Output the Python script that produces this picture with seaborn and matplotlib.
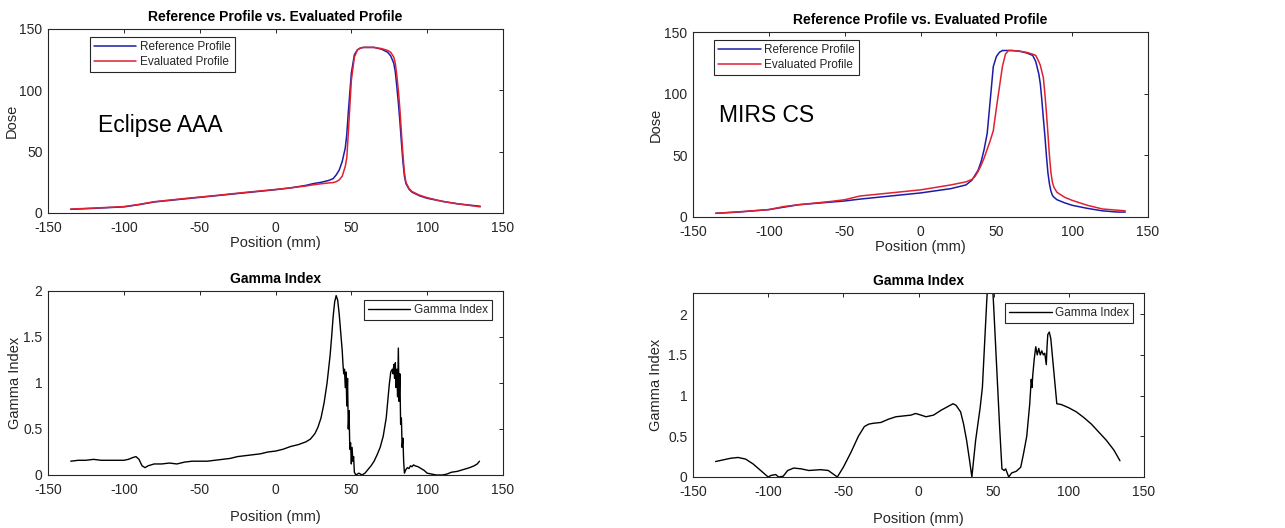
import matplotlib
matplotlib.use("Agg")
import matplotlib.pyplot as plt
import seaborn as sns
import pandas as pd

# ---------------- data ----------------
# Eclipse AAA dose profiles
ecl_x = [-135, -120, -100, -90, -80, -60, -40, -20, 0, 10, 20, 25, 30, 35, 38, 40, 42, 44, 46, 47,
         48, 50, 52, 54, 56, 58, 60, 65, 70, 74, 76, 78, 79, 80, 81, 82, 83, 84, 85, 86, 88, 90,
         95, 100, 110, 120, 135]
ecl_ref = [3.0, 3.8, 5.0, 6.8, 9.0, 11.5, 14.0, 16.5, 19.0, 20.5, 22.5, 24.0, 25.0, 26.5, 28.0, 31.0,
           35.0, 42.0, 53.0, 64.0, 82.0, 114.0, 129.0, 133.0, 134.5, 135.0, 135.0, 135.0, 133.5,
           131.0, 128.0, 122.0, 115.0, 103.0, 90.0, 75.0, 58.0, 42.0, 30.0, 24.0, 19.5, 17.0, 14.0,
           12.0, 9.5, 7.5, 5.5]
ecl_eval = [3.2, 4.0, 5.2, 7.0, 9.2, 11.8, 14.2, 16.8, 19.2, 20.5, 22.0, 23.0, 23.8, 24.5, 24.8, 25.5,
            27.0, 30.0, 38.0, 45.0, 65.0, 108.0, 127.0, 133.0, 134.5, 135.0, 135.0, 135.0, 134.0,
            132.5, 131.0, 127.0, 122.0, 112.0, 100.0, 85.0, 66.0, 48.0, 33.0, 25.0, 20.0, 17.5, 14.5,
            12.5, 9.5, 7.5, 5.0]

# MIRS CS dose profiles
mirs_x = [-135, -120, -100, -90, -80, -60, -50, -40, -20, 0, 20, 30, 34, 36, 38, 40, 42, 44, 46, 48,
          50, 52, 54, 56, 58, 60, 65, 70, 74, 76, 78, 79, 80, 81, 82, 83, 84, 85, 86, 87, 88, 90,
          95, 100, 110, 120, 130, 135]
mirs_ref = [3.0, 4.0, 6.0, 8.0, 10.0, 12.0, 13.0, 14.5, 17.0, 19.5, 23.0, 26.0, 30.0, 34.0, 38.0,
            45.0, 55.0, 68.0, 95.0, 122.0, 130.0, 133.5, 135.0, 135.0, 135.0, 135.0, 134.5, 133.0,
            131.0, 126.0, 116.0, 108.0, 95.0, 80.0, 66.0, 50.0, 36.0, 27.0, 21.0, 17.5, 16.0, 14.0,
            11.5, 9.5, 7.0, 5.0, 4.0, 4.0]
mirs_eval = [3.0, 4.2, 6.0, 8.5, 10.0, 12.5, 14.0, 17.0, 19.5, 22.0, 26.0, 28.5, 30.5, 33.0, 37.0,
             42.0, 48.0, 55.0, 62.0, 70.0, 88.0, 105.0, 122.0, 132.0, 135.0, 135.0, 134.5, 133.5,
             132.0, 131.0, 126.0, 123.0, 118.0, 113.0, 100.0, 85.0, 68.0, 50.0, 36.0, 28.0, 24.0,
             20.0, 16.0, 13.5, 9.5, 6.5, 5.5, 5.0]

# Gamma index, Eclipse AAA
gam_ecl_x = [-135, -130, -125, -120, -115, -110, -105, -100, -97, -94, -92, -90, -88, -86, -84, -80,
             -75, -70, -65, -60, -55, -50, -45, -40, -35, -30, -25, -20, -15, -10, -5, 0, 5, 10, 15,
             20, 23, 26, 28, 30, 32, 34, 36, 37, 38, 39, 40, 41, 42, 43, 44, 44.5, 45, 45.5, 46,
             46.5, 47, 47.5, 48, 48.5, 49, 49.5, 50, 50.5, 51, 51.5, 52, 53, 55, 57, 59, 61, 63, 65,
             67, 69, 71, 73, 74, 75, 76, 77, 77.5, 78, 78.5, 79, 79.5, 80, 80.5, 81, 81.5, 82, 82.5,
             83, 83.5, 84, 84.5, 85, 86, 87, 88, 89, 90, 91, 92, 94, 96, 98, 100, 103, 106, 110, 113,
             116, 120, 124, 128, 131, 133, 134.5]
gam_ecl = [0.15, 0.16, 0.16, 0.17, 0.16, 0.16, 0.16, 0.16, 0.17, 0.19, 0.20, 0.17, 0.10, 0.08, 0.10,
           0.12, 0.12, 0.13, 0.12, 0.14, 0.15, 0.15, 0.15, 0.16, 0.17, 0.18, 0.20, 0.21, 0.22, 0.23,
           0.25, 0.26, 0.28, 0.31, 0.33, 0.36, 0.39, 0.45, 0.52, 0.62, 0.78, 1.00, 1.30, 1.50, 1.72,
           1.88, 1.95, 1.90, 1.75, 1.55, 1.35, 1.20, 1.10, 1.15, 0.95, 1.12, 0.75, 1.05, 0.50, 0.70,
           0.28, 0.35, 0.12, 0.30, 0.15, 0.20, 0.03, 0.00, 0.02, 0.00, 0.02, 0.06, 0.10, 0.15, 0.22,
           0.30, 0.42, 0.62, 0.80, 0.98, 1.12, 1.15, 1.10, 1.20, 1.05, 1.22, 0.95, 1.15, 0.85, 1.38,
           0.80, 1.10, 0.55, 0.62, 0.30, 0.40, 0.15, 0.02, 0.06, 0.08, 0.07, 0.10, 0.09, 0.11, 0.10,
           0.09, 0.07, 0.05, 0.02, 0.01, 0.00, 0.00, 0.01, 0.03, 0.04, 0.06, 0.08, 0.10, 0.12, 0.15]

# Gamma index, MIRS CS
gam_mirs_x = [-135, -130, -125, -120, -115, -110, -105, -100, -98, -95, -93, -90, -87, -83, -78, -73,
              -65, -60, -57, -54, -50, -45, -40, -36, -33, -30, -25, -20, -15, -10, -5, -2, 0, 5, 10,
              15, 20, 23, 25, 28, 30, 32, 34, 35.5, 38, 41, 42.5, 44, 45.5, 47, 48.5, 50, 52, 54,
              55.5, 57, 58, 60, 62, 65, 68, 70, 72, 74, 75, 75.5, 76, 77, 78, 79, 80, 81, 82, 83, 84,
              85, 85.5, 86, 87, 88, 89, 91, 92, 95, 100, 105, 110, 115, 120, 125, 130, 134]
gam_mirs = [0.19, 0.21, 0.23, 0.24, 0.22, 0.16, 0.08, 0.00, 0.02, 0.03, 0.00, 0.01, 0.08, 0.11, 0.10,
            0.08, 0.09, 0.08, 0.04, 0.00, 0.12, 0.30, 0.50, 0.62, 0.65, 0.66, 0.67, 0.71, 0.74, 0.75,
            0.76, 0.78, 0.77, 0.74, 0.76, 0.82, 0.87, 0.90, 0.88, 0.80, 0.65, 0.45, 0.20, 0.00, 0.45,
            0.85, 1.10, 1.65, 2.20, 2.60, 2.60, 2.10, 1.35, 0.60, 0.10, 0.08, 0.10, 0.00, 0.05, 0.07,
            0.12, 0.30, 0.50, 0.90, 1.20, 1.10, 1.25, 1.45, 1.60, 1.50, 1.58, 1.50, 1.55, 1.50, 1.52,
            1.38, 1.60, 1.75, 1.78, 1.70, 1.50, 1.10, 0.90, 0.89, 0.85, 0.80, 0.73, 0.65, 0.55, 0.45,
            0.33, 0.20]

x_ticks = [-150, -100, -50, 0, 50, 100, 150]
dose_ticks = [0, 50, 100, 150]
gamma_ticks = [0, 0.5, 1, 1.5, 2]

# ---------------- style ----------------
sns.set_style("white")
plt.rcParams['font.family'] = ['Liberation Sans', 'DejaVu Sans']
plt.rcParams['axes.unicode_minus'] = False
AX_COL = '#262626'
BLUE = '#1c1ca8'
RED = '#de2232'

W, H = 1285, 528
fig = plt.figure(figsize=(W / 100, H / 100), dpi=100)
fig.patch.set_facecolor('white')


def rect(l, r, t, b):
    return [l / W, 1 - b / H, (r - l) / W, (b - t) / H]


ax_tl = fig.add_axes(rect(48, 503, 29, 213))
ax_tr = fig.add_axes(rect(693, 1148, 32, 217))
ax_bl = fig.add_axes(rect(48, 503, 291, 475))
ax_br = fig.add_axes(rect(693, 1144, 293, 477))


def style_axes(ax, yticks, ylim, ylabel, ylab_x, xlab_y, title):
    ax.set_xlim(-150, 150)
    ax.set_ylim(*ylim)
    ax.set_xticks(x_ticks)
    ax.set_xticklabels([str(t) for t in x_ticks])
    ax.set_yticks(yticks)
    ax.set_yticklabels([f"{t:g}" for t in yticks])
    ax.tick_params(direction='in', length=3, width=0.7, colors=AX_COL, labelsize=10,
                   top=True, right=True)
    ax.tick_params(axis='x', pad=6)
    ax.tick_params(axis='y', pad=4)
    for s in ax.spines.values():
        s.set_visible(True)
        s.set_color(AX_COL)
        s.set_linewidth(0.8)
    ax.set_xlabel('Position (mm)', fontsize=10.5, color=AX_COL)
    ax.xaxis.set_label_coords(0.5, xlab_y)
    ax.xaxis.label.set_va('center')
    ax.set_ylabel(ylabel, fontsize=10.5, color=AX_COL)
    ax.yaxis.set_label_coords(ylab_x, 0.5)
    ax.yaxis.label.set_va('center')
    ax.set_title(title, fontsize=10, fontweight='bold', color='black', y=1.066, va='center', pad=0)


def add_legend(ax, anchor, loc):
    leg = ax.legend(loc=loc, bbox_to_anchor=anchor, frameon=True, fancybox=False,
                    edgecolor=AX_COL, framealpha=1, fontsize=8.5, handlelength=3.6,
                    borderpad=0.35, labelspacing=0.25, handletextpad=0.3, borderaxespad=0)
    leg.get_frame().set_linewidth(0.8)
    for t in leg.get_texts():
        t.set_color(AX_COL)


# top-left
sns.lineplot(x=ecl_x, y=ecl_ref, ax=ax_tl, color=BLUE, lw=1.1, label='Reference Profile',
             estimator=None, sort=False)
sns.lineplot(x=ecl_x, y=ecl_eval, ax=ax_tl, color=RED, lw=1.1, label='Evaluated Profile',
             estimator=None, sort=False)
style_axes(ax_tl, dose_ticks, (0, 150), 'Dose', -0.079, -0.163,
           'Reference Profile vs. Evaluated Profile')
add_legend(ax_tl, (0.092, 0.957), 'upper left')
ax_tl.text(-117, 71, 'Eclipse AAA', fontsize=16.5, va='center', ha='left', color='black')

# top-right
sns.lineplot(x=mirs_x, y=mirs_ref, ax=ax_tr, color=BLUE, lw=1.1, label='Reference Profile',
             estimator=None, sort=False)
sns.lineplot(x=mirs_x, y=mirs_eval, ax=ax_tr, color=RED, lw=1.1, label='Evaluated Profile',
             estimator=None, sort=False)
style_axes(ax_tr, dose_ticks, (0, 150), 'Dose', -0.081, -0.163,
           'Reference Profile vs. Evaluated Profile')
add_legend(ax_tr, (0.046, 0.957), 'upper left')
ax_tr.text(-133, 82.7, 'MIRS CS', fontsize=16.5, va='center', ha='left', color='black')

# bottom-left
sns.lineplot(x=gam_ecl_x, y=gam_ecl, ax=ax_bl, color='black', lw=1.0, label='Gamma Index',
             estimator=None, sort=False)
style_axes(ax_bl, gamma_ticks, (0, 2), 'Gamma Index', -0.072, -0.228, 'Gamma Index')
add_legend(ax_bl, (0.976, 0.951), 'upper right')

# bottom-right
sns.lineplot(x=gam_mirs_x, y=gam_mirs, ax=ax_br, color='black', lw=1.0, label='Gamma Index',
             estimator=None, sort=False)
style_axes(ax_br, gamma_ticks, (0, 2.26), 'Gamma Index', -0.082, -0.228, 'Gamma Index')
add_legend(ax_br, (0.976, 0.946), 'upper right')

fig.savefig('out.png', dpi=100, facecolor='white')
